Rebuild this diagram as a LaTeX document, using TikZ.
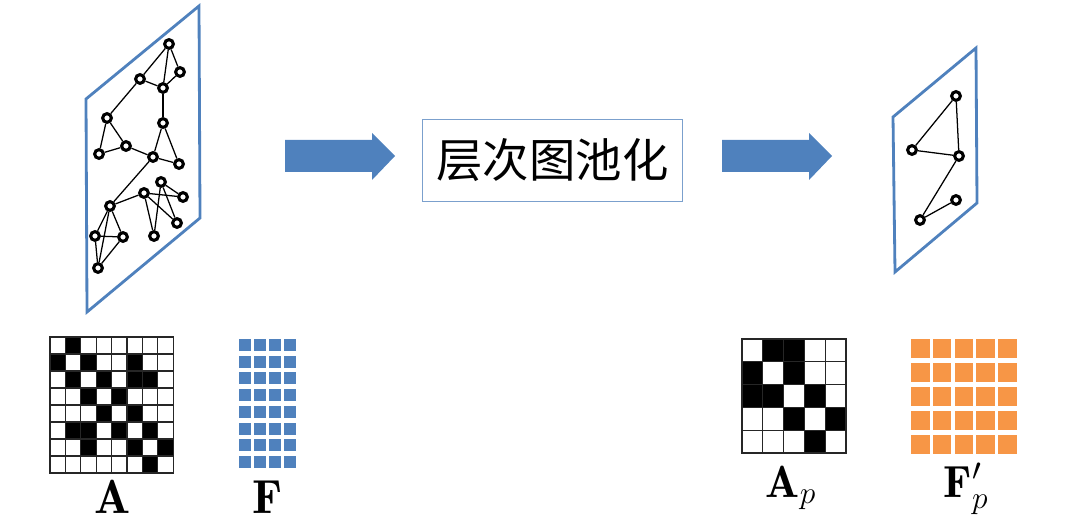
\documentclass[tikz,border=0pt]{standalone}
\usepackage{fix-cm}
\usepackage{fontspec}
\newfontfamily\cjk{Noto Sans CJK SC}
\definecolor{blu}{HTML}{4F81BD}
\definecolor{ora}{HTML}{F79646}
\colorlet{cell0}{white}
\colorlet{cell1}{black}
\begin{document}
\begin{tikzpicture}[x=0.025cm,y=-0.025cm,
    vtx/.style={circle,draw,line width=2.2pt,minimum size=6.2pt,inner sep=0pt,fill=white},
    plane/.style={draw=blu,line width=2pt},
    cell/.style={draw=black!85,line width=0.9pt}]
  \useasboundingbox (0,0) rectangle (1083,524);
  % input graph
  \draw[plane] (86,99) -- (199,6) -- (200,218) -- (87,312) -- cycle;
  \node[vtx] (a1) at (169,44) {};
  \node[vtx] (a2) at (180,72) {};
  \node[vtx] (a3) at (140,79) {};
  \node[vtx] (a4) at (163,88) {};
  \node[vtx] (a5) at (107,118) {};
  \node[vtx] (a6) at (163,123) {};
  \node[vtx] (a7) at (126,146) {};
  \node[vtx] (a8) at (99,154) {};
  \node[vtx] (a9) at (153,157) {};
  \node[vtx] (a10) at (179,164) {};
  \node[vtx] (a11) at (161,182) {};
  \node[vtx] (a12) at (144,193) {};
  \node[vtx] (a13) at (183,197) {};
  \node[vtx] (a14) at (110,206) {};
  \node[vtx] (a15) at (177,223) {};
  \node[vtx] (a16) at (95,236) {};
  \node[vtx] (a17) at (123,237) {};
  \node[vtx] (a18) at (154,236) {};
  \node[vtx] (a19) at (98,268) {};
  \foreach \u/\v in {a1/a2,a1/a3,a1/a4,a2/a4,a3/a4,a3/a5,a4/a6,a5/a8,a5/a7,a7/a8,
      a7/a9,a6/a9,a6/a10,a9/a10,a9/a14,a14/a12,a12/a13,a12/a15,a12/a18,a11/a13,
      a11/a15,a11/a18,a14/a16,a14/a17,a14/a19,a16/a17,a16/a19,a17/a19}
    \draw[line width=0.9pt] (\u) -- (\v);
  % pooled graph
  \draw[plane] (893,117) -- (976,48) -- (977,203) -- (895,272) -- cycle;
  \node[vtx] (b1) at (956,96) {};
  \node[vtx] (b2) at (912,150) {};
  \node[vtx] (b3) at (959,156) {};
  \node[vtx] (b4) at (956,200) {};
  \node[vtx] (b5) at (920,220) {};
  \foreach \u/\v in {b1/b2,b1/b3,b2/b3,b3/b5,b4/b5}
    \draw[line width=0.9pt] (\u) -- (\v);
  % arrows and pooling box
  \fill[blu] (285,140) -- (372,140) -- (372,133) -- (395,156) -- (372,180) -- (372,172) -- (285,172) -- cycle;
  \fill[blu] (722,140) -- (809,140) -- (809,133) -- (832,156) -- (809,180) -- (809,172) -- (722,172) -- cycle;
  \node[draw=blu!75,line width=0.7pt,minimum width=6.475cm,minimum height=2.025cm,
    font={\cjk\fontsize{33}{35}\selectfont}] (pool) at (552.5,160.5) {层次图池化};
  % adjacency A
  \foreach \row [count=\i] in {{0,1,0,0,0,0,0,0},{1,0,1,0,0,1,0,0},{0,1,0,1,0,1,1,0},
      {0,0,1,0,1,0,0,0},{0,0,0,1,0,1,0,0},{0,1,1,0,1,0,1,0},{0,0,1,0,0,1,0,1},
      {0,0,0,0,0,0,1,0}}
    \foreach \c [count=\j] in \row
      \draw[cell,fill=cell\c] ({50+(\j-1)*15.4},{337+(\i-1)*17}) rectangle ++(15.4,17);
  % features F
  \foreach \i in {0,...,7}
    \foreach \j in {0,...,3}
      \fill[blu] ({239+15*\j},{339+16.7*\i}) rectangle ++(12,12);
  % pooled adjacency
  \foreach \row [count=\i] in {{0,1,1,0,0},{1,0,1,0,0},{1,1,0,1,0},{0,0,1,0,1},{0,0,0,1,0}}
    \foreach \c [count=\j] in \row
      \draw[cell,fill=cell\c] ({742+(\j-1)*20.8},{339+(\i-1)*22.8}) rectangle ++(20.8,22.8);
  % pooled features
  \foreach \i in {0,...,4}
    \foreach \j in {0,...,4}
      \fill[ora] ({911+21.8*\j},{339+24*\i}) rectangle ++(18.5,18.5);
  % labels
  \node[anchor=base,font=\fontsize{34}{36}\selectfont] (labA) at (113,513) {$\mathbf{A}$};
  \node[anchor=base,font=\fontsize{34}{36}\selectfont] (labF) at (268,513) {$\mathbf{F}$};
  \node[anchor=base,font=\fontsize{32}{34}\selectfont] (labAp) at (791,497) {$\mathbf{A}_p$};
  \node[anchor=base,font=\fontsize{32}{34}\selectfont] (labFp) at (966,497) {$\mathbf{F}^\prime_p$};
\end{tikzpicture}
\end{document}
